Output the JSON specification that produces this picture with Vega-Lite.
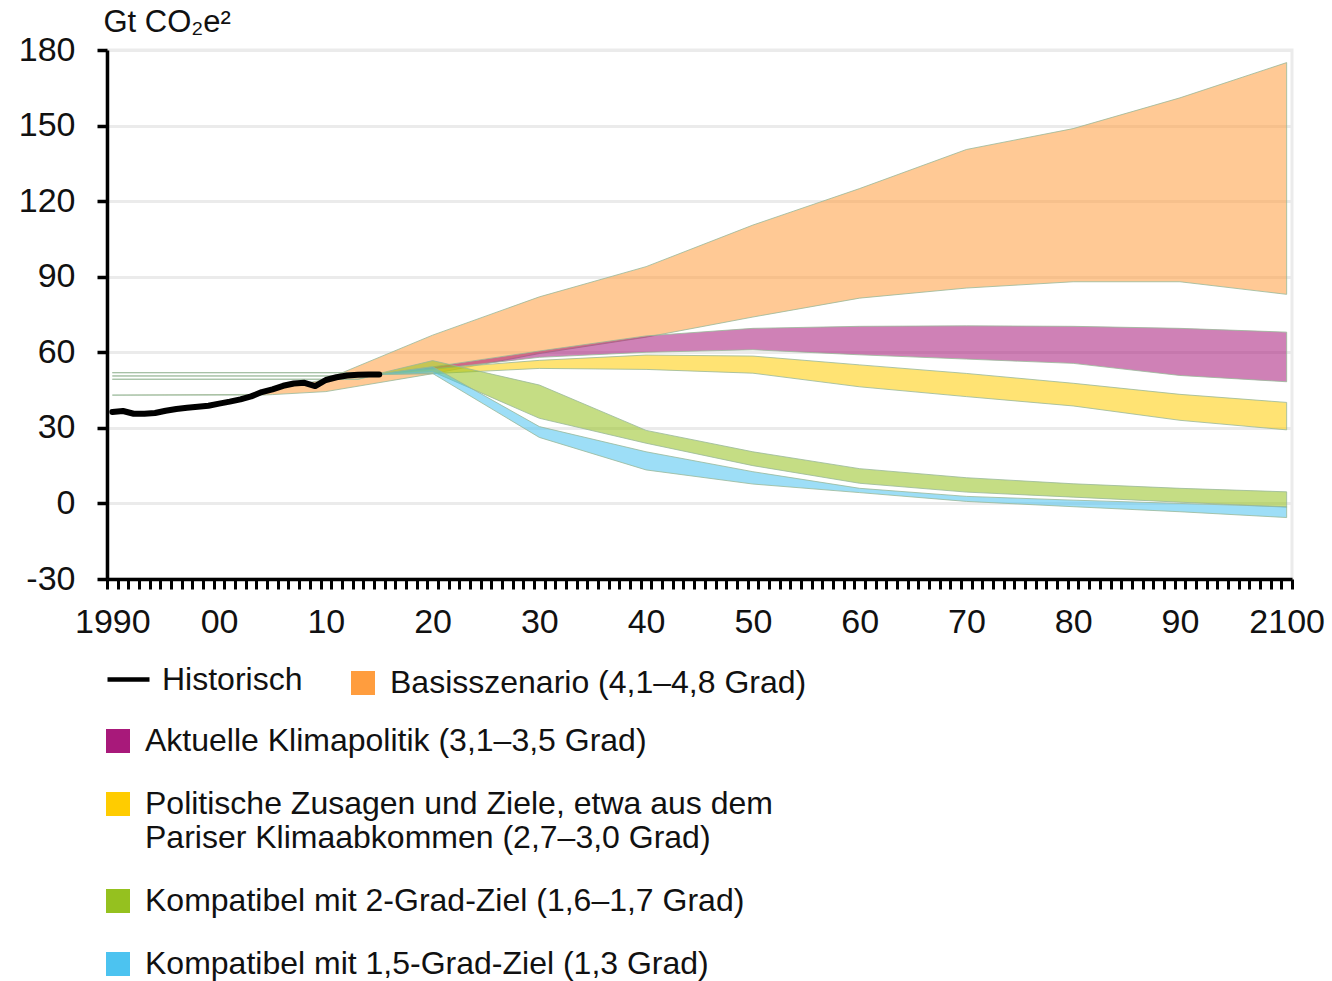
{
  "$schema": "https://vega.github.io/schema/vega-lite/v6.json",
  "autosize": {"type": "none"},
  "padding": {"left": 107, "top": 50, "right": 40, "bottom": 402},
  "width": 1185,
  "height": 529,
  "background": "white",
  "config": {
    "font": "Liberation Sans",
    "view": {"stroke": "#EBEBEB", "strokeWidth": 3}
  },
  "datasets": {
    "hist": [
      {"series": "Historisch", "year": 1990, "value": 36.3},
      {"series": "Historisch", "year": 1991, "value": 36.7},
      {"series": "Historisch", "year": 1992, "value": 35.6},
      {"series": "Historisch", "year": 1993, "value": 35.6},
      {"series": "Historisch", "year": 1994, "value": 35.9},
      {"series": "Historisch", "year": 1995, "value": 36.8},
      {"series": "Historisch", "year": 1996, "value": 37.5},
      {"series": "Historisch", "year": 1997, "value": 38.0},
      {"series": "Historisch", "year": 1998, "value": 38.4},
      {"series": "Historisch", "year": 1999, "value": 38.8},
      {"series": "Historisch", "year": 2000, "value": 39.6},
      {"series": "Historisch", "year": 2001, "value": 40.4},
      {"series": "Historisch", "year": 2002, "value": 41.3},
      {"series": "Historisch", "year": 2003, "value": 42.5},
      {"series": "Historisch", "year": 2004, "value": 44.2},
      {"series": "Historisch", "year": 2005, "value": 45.3},
      {"series": "Historisch", "year": 2006, "value": 46.7},
      {"series": "Historisch", "year": 2007, "value": 47.6},
      {"series": "Historisch", "year": 2008, "value": 47.9},
      {"series": "Historisch", "year": 2009, "value": 46.6},
      {"series": "Historisch", "year": 2010, "value": 49.0},
      {"series": "Historisch", "year": 2011, "value": 50.1},
      {"series": "Historisch", "year": 2012, "value": 50.8},
      {"series": "Historisch", "year": 2013, "value": 51.1},
      {"series": "Historisch", "year": 2014, "value": 51.2},
      {"series": "Historisch", "year": 2015, "value": 51.2}
    ],
    "bands": [
      {"series": "Basisszenario (4,1–4,8 Grad)", "year": 1990, "low": 43, "high": 43},
      {"series": "Basisszenario (4,1–4,8 Grad)", "year": 2004, "low": 43, "high": 43.3},
      {"series": "Basisszenario (4,1–4,8 Grad)", "year": 2005, "low": 43.2, "high": 45.3},
      {"series": "Basisszenario (4,1–4,8 Grad)", "year": 2010, "low": 44.4, "high": 49.2},
      {"series": "Basisszenario (4,1–4,8 Grad)", "year": 2020, "low": 51.5, "high": 66.8},
      {"series": "Basisszenario (4,1–4,8 Grad)", "year": 2030, "low": 59.5, "high": 82},
      {"series": "Basisszenario (4,1–4,8 Grad)", "year": 2040, "low": 66, "high": 94},
      {"series": "Basisszenario (4,1–4,8 Grad)", "year": 2050, "low": 74, "high": 110.5},
      {"series": "Basisszenario (4,1–4,8 Grad)", "year": 2060, "low": 81.5, "high": 125},
      {"series": "Basisszenario (4,1–4,8 Grad)", "year": 2070, "low": 85.5, "high": 140.5},
      {"series": "Basisszenario (4,1–4,8 Grad)", "year": 2080, "low": 88, "high": 148.8},
      {"series": "Basisszenario (4,1–4,8 Grad)", "year": 2090, "low": 88, "high": 161},
      {"series": "Basisszenario (4,1–4,8 Grad)", "year": 2100, "low": 83, "high": 175},

      {"series": "Aktuelle Klimapolitik (3,1–3,5 Grad)", "year": 1990, "low": 50.6, "high": 50.6},
      {"series": "Aktuelle Klimapolitik (3,1–3,5 Grad)", "year": 2013, "low": 50.6, "high": 50.6},
      {"series": "Aktuelle Klimapolitik (3,1–3,5 Grad)", "year": 2015, "low": 51.2, "high": 51.4},
      {"series": "Aktuelle Klimapolitik (3,1–3,5 Grad)", "year": 2020, "low": 53.2, "high": 54.2},
      {"series": "Aktuelle Klimapolitik (3,1–3,5 Grad)", "year": 2030, "low": 58, "high": 60.5},
      {"series": "Aktuelle Klimapolitik (3,1–3,5 Grad)", "year": 2040, "low": 60, "high": 66.5},
      {"series": "Aktuelle Klimapolitik (3,1–3,5 Grad)", "year": 2050, "low": 61, "high": 69.5},
      {"series": "Aktuelle Klimapolitik (3,1–3,5 Grad)", "year": 2060, "low": 59, "high": 70.3},
      {"series": "Aktuelle Klimapolitik (3,1–3,5 Grad)", "year": 2070, "low": 57.3, "high": 70.5},
      {"series": "Aktuelle Klimapolitik (3,1–3,5 Grad)", "year": 2080, "low": 55.6, "high": 70.3},
      {"series": "Aktuelle Klimapolitik (3,1–3,5 Grad)", "year": 2090, "low": 50.8, "high": 69.5},
      {"series": "Aktuelle Klimapolitik (3,1–3,5 Grad)", "year": 2100, "low": 48.3, "high": 68},

      {"series": "Politische Zusagen und Ziele, etwa aus dem Pariser Klimaabkommen (2,7–3,0 Grad)", "year": 1990, "low": 49.3, "high": 49.3},
      {"series": "Politische Zusagen und Ziele, etwa aus dem Pariser Klimaabkommen (2,7–3,0 Grad)", "year": 2013, "low": 49.3, "high": 49.3},
      {"series": "Politische Zusagen und Ziele, etwa aus dem Pariser Klimaabkommen (2,7–3,0 Grad)", "year": 2015, "low": 51.2, "high": 51.4},
      {"series": "Politische Zusagen und Ziele, etwa aus dem Pariser Klimaabkommen (2,7–3,0 Grad)", "year": 2020, "low": 51.5, "high": 53.5},
      {"series": "Politische Zusagen und Ziele, etwa aus dem Pariser Klimaabkommen (2,7–3,0 Grad)", "year": 2030, "low": 53.6, "high": 56.8},
      {"series": "Politische Zusagen und Ziele, etwa aus dem Pariser Klimaabkommen (2,7–3,0 Grad)", "year": 2040, "low": 53.2, "high": 58.9},
      {"series": "Politische Zusagen und Ziele, etwa aus dem Pariser Klimaabkommen (2,7–3,0 Grad)", "year": 2050, "low": 51.7, "high": 58.5},
      {"series": "Politische Zusagen und Ziele, etwa aus dem Pariser Klimaabkommen (2,7–3,0 Grad)", "year": 2060, "low": 46.3, "high": 55},
      {"series": "Politische Zusagen und Ziele, etwa aus dem Pariser Klimaabkommen (2,7–3,0 Grad)", "year": 2070, "low": 42.4, "high": 51.6},
      {"series": "Politische Zusagen und Ziele, etwa aus dem Pariser Klimaabkommen (2,7–3,0 Grad)", "year": 2080, "low": 38.7, "high": 47.7},
      {"series": "Politische Zusagen und Ziele, etwa aus dem Pariser Klimaabkommen (2,7–3,0 Grad)", "year": 2090, "low": 33, "high": 43.3},
      {"series": "Politische Zusagen und Ziele, etwa aus dem Pariser Klimaabkommen (2,7–3,0 Grad)", "year": 2100, "low": 29.2, "high": 40.1},

      {"series": "Kompatibel mit 2-Grad-Ziel (1,6–1,7 Grad)", "year": 1990, "low": 51.9, "high": 51.9},
      {"series": "Kompatibel mit 2-Grad-Ziel (1,6–1,7 Grad)", "year": 2013, "low": 51.9, "high": 51.9},
      {"series": "Kompatibel mit 2-Grad-Ziel (1,6–1,7 Grad)", "year": 2015, "low": 51.2, "high": 51.6},
      {"series": "Kompatibel mit 2-Grad-Ziel (1,6–1,7 Grad)", "year": 2020, "low": 52.3, "high": 56.7},
      {"series": "Kompatibel mit 2-Grad-Ziel (1,6–1,7 Grad)", "year": 2030, "low": 33.8, "high": 47},
      {"series": "Kompatibel mit 2-Grad-Ziel (1,6–1,7 Grad)", "year": 2040, "low": 23.9, "high": 29},
      {"series": "Kompatibel mit 2-Grad-Ziel (1,6–1,7 Grad)", "year": 2050, "low": 15, "high": 20.5},
      {"series": "Kompatibel mit 2-Grad-Ziel (1,6–1,7 Grad)", "year": 2060, "low": 8, "high": 13.8},
      {"series": "Kompatibel mit 2-Grad-Ziel (1,6–1,7 Grad)", "year": 2070, "low": 4.5, "high": 10.2},
      {"series": "Kompatibel mit 2-Grad-Ziel (1,6–1,7 Grad)", "year": 2080, "low": 2.5, "high": 7.8},
      {"series": "Kompatibel mit 2-Grad-Ziel (1,6–1,7 Grad)", "year": 2090, "low": 0.5, "high": 6},
      {"series": "Kompatibel mit 2-Grad-Ziel (1,6–1,7 Grad)", "year": 2100, "low": -1.5, "high": 4.6},

      {"series": "Kompatibel mit 1,5-Grad-Ziel (1,3 Grad)", "year": 2015, "low": 51.2, "high": 51.4},
      {"series": "Kompatibel mit 1,5-Grad-Ziel (1,3 Grad)", "year": 2020, "low": 51.6, "high": 54.3},
      {"series": "Kompatibel mit 1,5-Grad-Ziel (1,3 Grad)", "year": 2030, "low": 26.2, "high": 30.5},
      {"series": "Kompatibel mit 1,5-Grad-Ziel (1,3 Grad)", "year": 2040, "low": 13.3, "high": 20.5},
      {"series": "Kompatibel mit 1,5-Grad-Ziel (1,3 Grad)", "year": 2050, "low": 7.7, "high": 12.6},
      {"series": "Kompatibel mit 1,5-Grad-Ziel (1,3 Grad)", "year": 2060, "low": 4.3, "high": 6},
      {"series": "Kompatibel mit 1,5-Grad-Ziel (1,3 Grad)", "year": 2070, "low": 0.8, "high": 2.8},
      {"series": "Kompatibel mit 1,5-Grad-Ziel (1,3 Grad)", "year": 2080, "low": -1.3, "high": 1.3},
      {"series": "Kompatibel mit 1,5-Grad-Ziel (1,3 Grad)", "year": 2090, "low": -3.3, "high": 0},
      {"series": "Kompatibel mit 1,5-Grad-Ziel (1,3 Grad)", "year": 2100, "low": -5.6, "high": -1.3}
    ]
  },
  "resolve": {"axis": {"x": "independent"}},
  "layer": [
    {
      "data": {"name": "bands"},
      "transform": [{"filter": "datum.series == 'Basisszenario (4,1–4,8 Grad)'"}],
      "mark": {"type": "area", "fillOpacity": 0.55, "stroke": "#98B898", "strokeWidth": 1, "strokeOpacity": 0.8},
      "encoding": {
        "x": {
          "field": "year", "type": "quantitative", "title": null,
          "scale": {"domain": [1989.5, 2100.5], "nice": false, "zero": false},
          "axis": {
            "orient": "bottom",
            "values": [1989.5,1990.5,1991.5,1992.5,1993.5,1994.5,1995.5,1996.5,1997.5,1998.5,1999.5,2000.5,2001.5,2002.5,2003.5,2004.5,2005.5,2006.5,2007.5,2008.5,2009.5,2010.5,2011.5,2012.5,2013.5,2014.5,2015.5,2016.5,2017.5,2018.5,2019.5,2020.5,2021.5,2022.5,2023.5,2024.5,2025.5,2026.5,2027.5,2028.5,2029.5,2030.5,2031.5,2032.5,2033.5,2034.5,2035.5,2036.5,2037.5,2038.5,2039.5,2040.5,2041.5,2042.5,2043.5,2044.5,2045.5,2046.5,2047.5,2048.5,2049.5,2050.5,2051.5,2052.5,2053.5,2054.5,2055.5,2056.5,2057.5,2058.5,2059.5,2060.5,2061.5,2062.5,2063.5,2064.5,2065.5,2066.5,2067.5,2068.5,2069.5,2070.5,2071.5,2072.5,2073.5,2074.5,2075.5,2076.5,2077.5,2078.5,2079.5,2080.5,2081.5,2082.5,2083.5,2084.5,2085.5,2086.5,2087.5,2088.5,2089.5,2090.5,2091.5,2092.5,2093.5,2094.5,2095.5,2096.5,2097.5,2098.5,2099.5,2100.5],
            "labels": false, "grid": false,
            "domainColor": "#000000", "domainWidth": 3.5,
            "tickColor": "#000000", "tickWidth": 3, "tickSize": 10
          }
        },
        "y": {
          "field": "low", "type": "quantitative", "title": "Gt CO₂e²",
          "scale": {"domain": [-30, 180], "nice": false, "zero": false},
          "axis": {
            "values": [-30, 0, 30, 60, 90, 120, 150, 180],
            "labelExpr": "'' + datum.value",
            "labelFont": "Liberation Sans", "labelFontSize": 34, "labelColor": "#111111", "labelPadding": 22,
            "domainColor": "#000000", "domainWidth": 3.5,
            "tickColor": "#000000", "tickWidth": 3.5, "tickSize": 10,
            "grid": true, "gridColor": "#EBEBEB", "gridWidth": 3,
            "titleAngle": 0, "titleAlign": "left", "titleBaseline": "alphabetic",
            "titleX": -4, "titleY": -19,
            "titleFont": "Liberation Sans", "titleFontSize": 31, "titleFontWeight": "normal", "titleColor": "#111111"
          }
        },
        "y2": {"field": "high"},
        "color": {
          "field": "series", "type": "nominal",
          "scale": {"domain": ["Basisszenario (4,1–4,8 Grad)"], "range": ["#FF9D3E"]},
          "legend": {
            "orient": "none", "legendX": 240, "legendY": 617, "title": null,
            "symbolType": "square", "symbolSize": 576, "symbolStrokeWidth": 0,
            "labelFont": "Liberation Sans", "labelFontSize": 32, "labelColor": "#111111",
            "labelOffset": 11, "labelLimit": 900,
            "encode": {"symbols": {"update": {"fillOpacity": {"value": 1}, "opacity": {"value": 1}, "strokeWidth": {"value": 0}}}}
          }
        }
      }
    },
    {
      "data": {"name": "bands"},
      "transform": [{"filter": "datum.series != 'Basisszenario (4,1–4,8 Grad)'"}],
      "mark": {"type": "area", "fillOpacity": 0.55, "stroke": "#98B898", "strokeWidth": 1, "strokeOpacity": 0.8},
      "encoding": {
        "x": {"field": "year", "type": "quantitative", "title": null, "axis": null},
        "y": {"field": "low", "type": "quantitative", "title": "Gt CO₂e²"},
        "y2": {"field": "high"},
        "fill": {
          "field": "series", "type": "nominal",
          "scale": {
            "domain": [
              "Aktuelle Klimapolitik (3,1–3,5 Grad)",
              "Politische Zusagen und Ziele, etwa aus dem Pariser Klimaabkommen (2,7–3,0 Grad)",
              "Kompatibel mit 2-Grad-Ziel (1,6–1,7 Grad)",
              "Kompatibel mit 1,5-Grad-Ziel (1,3 Grad)"
            ],
            "range": ["#A8197A", "#FFCC00", "#95C11F", "#4CC3F0"]
          },
          "legend": {
            "orient": "none", "legendX": -5, "legendY": 675, "title": null,
            "direction": "vertical", "rowPadding": 31,
            "symbolType": "square", "symbolSize": 576, "symbolStrokeWidth": 0,
            "labelFont": "Liberation Sans", "labelFontSize": 32, "labelColor": "#111111",
            "labelOffset": 11, "labelLimit": 900,
            "labelExpr": "indexof(datum.label, 'Politische') == 0 ? ['Politische Zusagen und Ziele, etwa aus dem', 'Pariser Klimaabkommen (2,7–3,0 Grad)'] : datum.label",
            "encode": {
              "symbols": {"update": {"fillOpacity": {"value": 1}, "opacity": {"value": 1}, "strokeWidth": {"value": 0}}},
              "labels": {"update": {"lineHeight": {"value": 36}}}
            }
          }
        }
      }
    },
    {
      "mark": {"type": "rule", "color": "#000000", "strokeWidth": 2.5},
      "encoding": {
        "y": {"datum": 0, "type": "quantitative", "title": "Gt CO₂e²"}
      }
    },
    {
      "data": {"name": "hist"},
      "mark": {"type": "line", "strokeWidth": 6, "strokeCap": "round", "strokeJoin": "round"},
      "encoding": {
        "x": {
          "field": "year", "type": "quantitative", "title": null,
          "axis": {
            "orient": "bottom",
            "values": [1990, 2000, 2010, 2020, 2030, 2040, 2050, 2060, 2070, 2080, 2090, 2100],
            "labelExpr": "(datum.value == 1990 || datum.value == 2100) ? '' + datum.value : ((datum.value % 100) < 10 ? '0' + (datum.value % 100) : '' + (datum.value % 100))",
            "ticks": false, "tickSize": 0, "domain": false, "grid": false,
            "labelFlush": false, "labelOverlap": false, "labelBound": false,
            "labelFont": "Liberation Sans", "labelFontSize": 34, "labelColor": "#111111", "labelPadding": 26
          }
        },
        "y": {"field": "value", "type": "quantitative", "title": "Gt CO₂e²"},
        "stroke": {
          "field": "series", "type": "nominal",
          "scale": {"domain": ["Historisch"], "range": ["#000000"]},
          "legend": {
            "orient": "none", "legendX": -2, "legendY": 606, "title": null,
            "symbolType": "stroke", "symbolSize": 1764, "symbolStrokeWidth": 4.5,
            "labelFont": "Liberation Sans", "labelFontSize": 32, "labelColor": "#111111",
            "labelOffset": 10, "labelLimit": 900
          }
        }
      }
    }
  ]
}
